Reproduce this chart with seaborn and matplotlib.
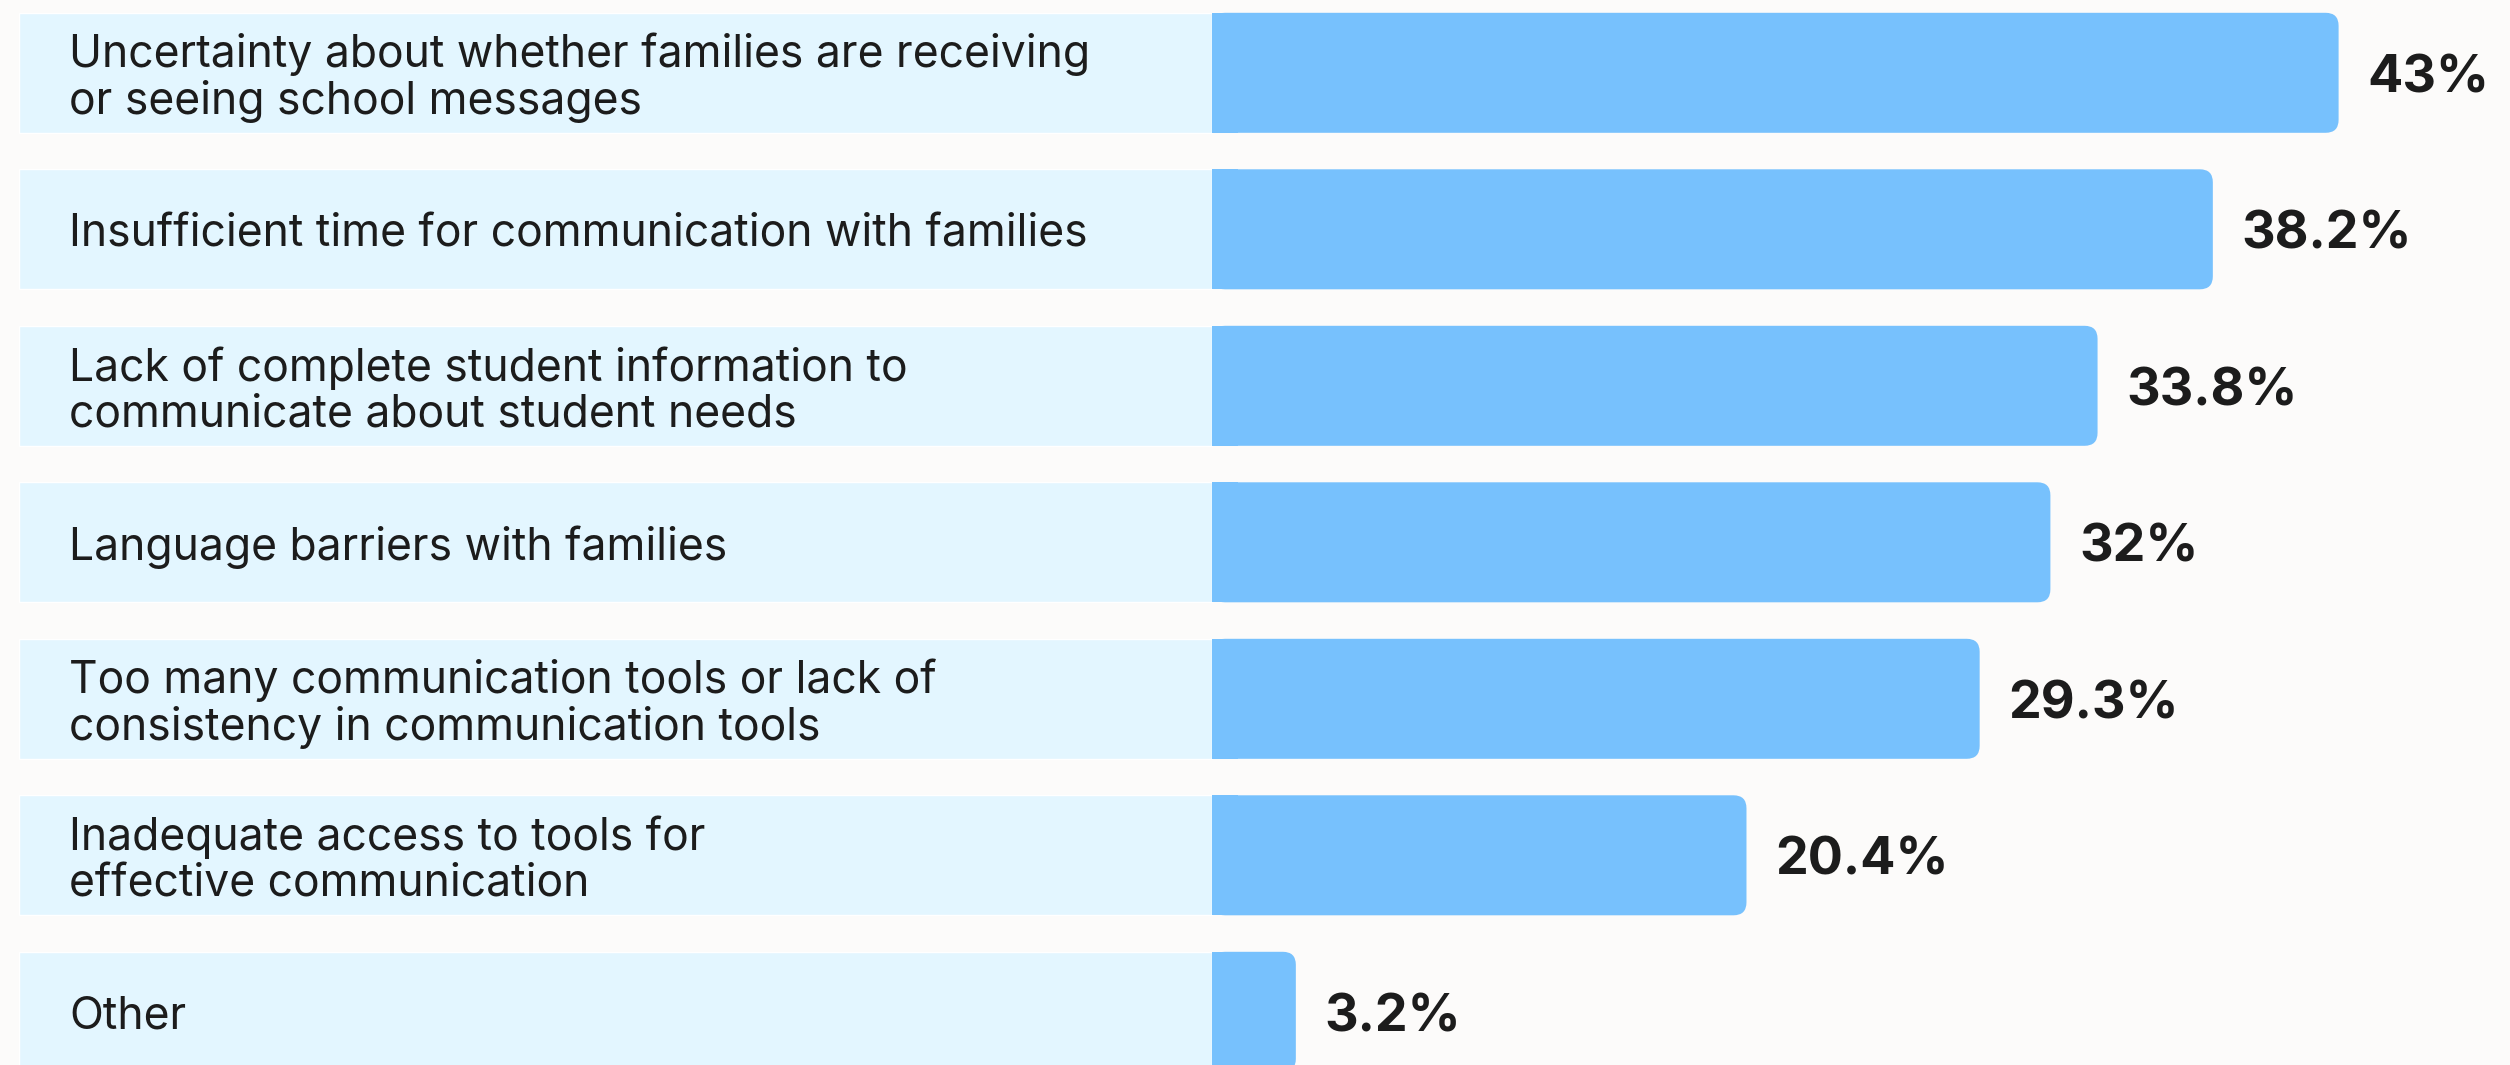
import numpy as np
import pandas as pd
import matplotlib
matplotlib.use("Agg")
import matplotlib.pyplot as plt
from matplotlib.patches import FancyBboxPatch, Rectangle
import seaborn as sns

# data
labels = [
    "Uncertainty about whether families are receiving\nor seeing school messages",
    "Insufficient time for communication with families",
    "Lack of complete student information to\ncommunicate about student needs",
    "Language barriers with families",
    "Too many communication tools or lack of\nconsistency in communication tools",
    "Inadequate access to tools for\neffective communication",
    "Other",
]
values = [43, 38.2, 33.8, 32, 29.3, 20.4, 3.2]
value_text = ["43%", "38.2%", "33.8%", "32%", "29.3%", "20.4%", "3.2%"]

df = pd.DataFrame({"label": labels, "value": values})

# layout in pixels
W, H = 2510, 1065
x0_px = 1212        # where bars start
px_per_pct = 26.2
row0_px = 72.8      # centre of first row from top
pitch_px = 156.5
bar_h = 120 / pitch_px
panel_left_px = 19
text_left_px = 69

bg = "#fcfbfa"
panel_col = "#e3f6ff"
bar_col = "#77c1fd"
txt_col = "#1c1c1c"

sns.set_theme(style="white")
plt.rcParams["font.family"] = ["Inter", "DejaVu Sans"]

fig = plt.figure(figsize=(W / 100, H / 100), dpi=100, facecolor=bg)
ax = fig.add_axes([0, 0, 1, 1])
ax.set_facecolor(bg)

sns.barplot(data=df, x="value", y="label", orient="h", color=bar_col,
            saturation=1, width=bar_h, ax=ax, zorder=3)

xmin = -x0_px / px_per_pct
xmax = (W - x0_px) / px_per_pct
ax.set_xlim(xmin, xmax)
ax.set_ylim((H - row0_px) / pitch_px, -row0_px / pitch_px)

# round the right ends of the bars
asp = px_per_pct / pitch_px
r = 13 / px_per_pct
for p in list(ax.patches):
    x, y = p.get_x(), p.get_y()
    w, h = p.get_width(), p.get_height()
    p.remove()
    ax.add_patch(FancyBboxPatch((x, y), w, h,
                                boxstyle=f"round,pad=0,rounding_size={r}",
                                mutation_aspect=asp, fc=bar_col, ec="none", zorder=3))
    ax.add_patch(Rectangle((x, y), min(w / 2, 2 * r), h, fc=bar_col, ec="none", zorder=3))

# label panels
pos = np.arange(len(labels))
panel_left = (panel_left_px - x0_px) / px_per_pct
ax.barh(pos, panel_left, left=0, height=bar_h, color=panel_col, zorder=2)

text_x = (text_left_px - x0_px) / px_per_pct
dy = 5 / pitch_px
for i, (lab, v, vt) in enumerate(zip(labels, values, value_text)):
    ax.text(text_x, i + dy, lab, ha="left", va="center", fontsize=32,
            color=txt_col, linespacing=1.12, zorder=4)
    ax.text(v + 29 / px_per_pct, i + 1.2 * dy, vt, ha="left", va="center",
            fontsize=37.5, fontweight="bold", color=txt_col, zorder=4)

ax.set_xlabel("")
ax.set_ylabel("")
ax.set_xticks([])
ax.set_yticks([])
for s in ax.spines.values():
    s.set_visible(False)

fig.savefig("out.png", dpi=100, facecolor=bg)
